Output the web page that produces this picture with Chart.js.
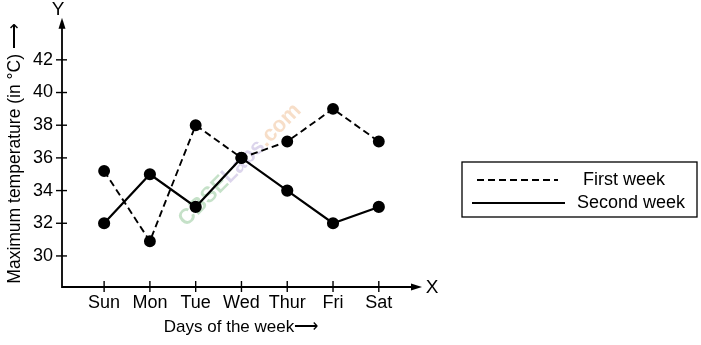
<!DOCTYPE html>
<html>
<head>
<meta charset="utf-8">
<script src="https://cdn.jsdelivr.net/npm/chart.js@4.4.0/dist/chart.umd.min.js"></script>
<style>
    html, body { margin: 0; padding: 0; background: #fff; }
    #wrap { width: 701px; height: 345px; position: relative; }
</style>
</head>
<body>
<div id="wrap"><canvas id="tempChart"></canvas></div>
<script>
// Data
const days = ['Sun', 'Mon', 'Tue', 'Wed', 'Thur', 'Fri', 'Sat'];
const firstWeek = [35.2, 30.9, 38, 36, 37, 39, 37];
const secondWeek = [32, 35, 33, 36, 34, 32, 33];
const yTicks = [30, 32, 34, 36, 38, 40, 42];

const FONT = '"Liberation Sans", Arial, Helvetica, sans-serif';

function toPoints(values) {
    return values.map(function(v, i) { return { x: i, y: v }; });
}

// Axis arrows, crossing tick marks, X/Y letters, legend box and watermark
const axesDecor = {
    id: 'axesDecor',
    beforeDatasetsDraw(chart) {
        const ctx = chart.ctx;
        ctx.save();
        ctx.translate(240, 165);
        ctx.rotate(-Math.PI / 4);
        ctx.font = 'bold 22px ' + FONT;
        ctx.textBaseline = 'middle';
        ctx.globalAlpha = 0.35;
        const parts = [['CBSE', '#5aa860'], ['Labs', '#9c86c9'], ['.com', '#e8a060']];
        let total = 0;
        parts.forEach(p => { total += ctx.measureText(p[0]).width; });
        let x = -total / 2;
        ctx.textAlign = 'left';
        parts.forEach(p => {
            ctx.fillStyle = p[1];
            ctx.fillText(p[0], x, 0);
            x += ctx.measureText(p[0]).width;
        });
        ctx.restore();
    },
    afterDraw(chart) {
        const ctx = chart.ctx;
        const a = chart.chartArea;
        const xs = chart.scales.x;
        const ys = chart.scales.y;
        ctx.save();
        ctx.strokeStyle = '#000';
        ctx.fillStyle = '#000';
        ctx.lineWidth = 1.8;

        // axes
        ctx.beginPath();
        ctx.moveTo(a.left, a.top + 4);
        ctx.lineTo(a.left, a.bottom);
        ctx.lineTo(a.right - 4, a.bottom);
        ctx.stroke();

        // arrow heads
        ctx.beginPath();
        ctx.moveTo(a.left, a.top - 2);
        ctx.lineTo(a.left - 3.5, a.top + 9);
        ctx.lineTo(a.left + 3.5, a.top + 9);
        ctx.closePath();
        ctx.fill();
        ctx.beginPath();
        ctx.moveTo(a.right + 2, a.bottom);
        ctx.lineTo(a.right - 9, a.bottom - 3.5);
        ctx.lineTo(a.right - 9, a.bottom + 3.5);
        ctx.closePath();
        ctx.fill();

        // crossing tick marks
        ctx.lineWidth = 1.4;
        yTicks.forEach(function(v) {
            const py = ys.getPixelForValue(v);
            ctx.beginPath();
            ctx.moveTo(a.left - 6, py);
            ctx.lineTo(a.left + 5, py);
            ctx.stroke();
        });
        days.forEach(function(d, i) {
            const px = xs.getPixelForValue(i);
            ctx.beginPath();
            ctx.moveTo(px, a.bottom - 6);
            ctx.lineTo(px, a.bottom + 5);
            ctx.stroke();
        });

        // axis letters
        ctx.font = '19px ' + FONT;
        ctx.textBaseline = 'middle';
        ctx.textAlign = 'center';
        ctx.fillText('Y', a.left - 4, 10);
        ctx.fillText('X', a.right + 12, a.bottom + 1);

        // legend
        const lx = 462, ly = 162, lw = 235, lh = 55;
        ctx.lineWidth = 1.3;
        ctx.strokeRect(lx, ly, lw, lh);
        ctx.font = '18px ' + FONT;
        ctx.textAlign = 'left';
        chart.data.datasets.forEach(function(ds, i) {
            const yy = ly + 18 + i * 23;
            ctx.lineWidth = ds.borderWidth;
            ctx.setLineDash(ds.borderDash || []);
            ctx.beginPath();
            ctx.moveTo(lx + (i === 0 ? 15 : 10), yy);
            ctx.lineTo(lx + (i === 0 ? 96 : 103), yy);
            ctx.stroke();
            ctx.setLineDash([]);
            ctx.fillText(ds.label, lx + (i === 0 ? 121 : 115), yy);
        });
        ctx.restore();
    }
};

const chartEl = document.getElementById('tempChart');
new Chart(chartEl, {
    type: 'line',
    data: {
        datasets: [{
            label: 'First week',
            data: toPoints(firstWeek),
            borderColor: '#000',
            backgroundColor: '#000',
            borderWidth: 1.9,
            borderDash: [7, 4],
            pointRadius: 5,
            tension: 0
        }, {
            label: 'Second week',
            data: toPoints(secondWeek),
            borderColor: '#000',
            backgroundColor: '#000',
            borderWidth: 2.2,
            pointRadius: 5,
            tension: 0
        }]
    },
    options: {
        responsive: true,
        maintainAspectRatio: false,
        animation: false,
        layout: {
            padding: { top: 13, right: 281, left: 0, bottom: 0 }
        },
        plugins: {
            legend: { display: false },
            tooltip: { enabled: false }
        },
        scales: {
            x: {
                type: 'linear',
                min: -0.92,
                max: 6.9,
                grid: { display: false, drawTicks: false },
                border: { display: false },
                afterBuildTicks: function(scale) {
                    scale.ticks = days.map(function(d, i) { return { value: i }; });
                },
                afterFit: function(scale) {
                    scale.height = 58;
                },
                ticks: {
                    color: '#000',
                    font: { family: FONT, size: 18 },
                    padding: 5,
                    maxRotation: 0,
                    autoSkip: false,
                    callback: function(value) {
                        return days[value];
                    }
                },
                title: {
                    display: true,
                    text: 'Days of the week\u27F6',
                    color: '#000',
                    font: { family: FONT, size: 17 },
                    padding: { top: 4, bottom: 7 }
                }
            },
            y: {
                min: 28.1,
                max: 44.45,
                grid: { display: false, drawTicks: false },
                border: { display: false },
                afterBuildTicks: function(scale) {
                    scale.ticks = yTicks.map(function(v) { return { value: v }; });
                },
                afterFit: function(scale) {
                    scale.width = 62;
                },
                ticks: {
                    color: '#000',
                    font: { family: FONT, size: 18 },
                    padding: 9
                },
                title: {
                    display: true,
                    text: 'Maximum temperature (in \u00B0C) \u27F6',
                    color: '#000',
                    font: { family: FONT, size: 17.5 },
                    padding: { top: 5, bottom: 4 }
                }
            }
        }
    },
    plugins: [axesDecor]
});
</script>
</body>
</html>
